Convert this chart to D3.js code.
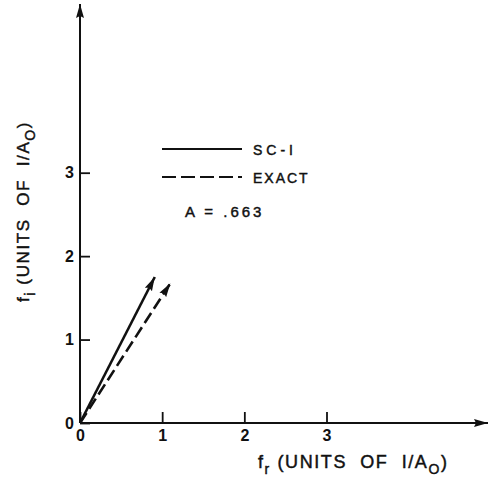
<!DOCTYPE html>
<html>
<head>
<meta charset="utf-8">
<script src="https://cdn.jsdelivr.net/npm/d3@7"></script>
<style>
  html, body { margin: 0; padding: 0; background: #fff; }
  svg { display: block; }
  text { font-family: "Liberation Sans", Arial, sans-serif; fill: #111; white-space: pre; }
  .lbl { stroke: #111; stroke-width: 0.45; }
</style>
</head>
<body>
<svg id="chart" width="489" height="491"></svg>
<script>
// Ticks along each axis
const xTicks = [0, 1, 2, 3];
const yTicks = [0, 1, 2, 3];

// Vector end points (f_r, f_i) for each method
const methods = ["SC-I", "EXACT"];
const frValues = [0.91, 1.10];
const fiValues = [1.75, 1.675];
const dashStyles = [null, "12,5"];

const paramLabel = "A = .663";

const svg = d3.select("#chart");
const ink = "#111";

const x = d3.scaleLinear().domain([0, 3]).range([80, 326.5]);
const y = d3.scaleLinear().domain([0, 3]).range([423, 172.7]);

// Arrowhead marker
const defs = svg.append("defs");
defs.append("marker")
  .attr("id", "head")
  .attr("markerUnits", "userSpaceOnUse")
  .attr("viewBox", "0 -5 14 10")
  .attr("refX", 14).attr("refY", 0)
  .attr("markerWidth", 14).attr("markerHeight", 10)
  .attr("orient", "auto")
  .append("path").attr("d", "M0,-4L14,0L0,4L2,0Z").attr("fill", ink);

// Axis lines with arrow tips
svg.append("line")
  .attr("x1", x(0)).attr("y1", y(0)).attr("x2", x(0)).attr("y2", 4)
  .attr("stroke", ink).attr("stroke-width", 2)
  .attr("marker-end", "url(#head)");
svg.append("line")
  .attr("x1", x(0)).attr("y1", y(0)).attr("x2", 488).attr("y2", y(0))
  .attr("stroke", ink).attr("stroke-width", 2)
  .attr("marker-end", "url(#head)");

// Ticks and tick labels
const xAxis = svg.append("g")
  .attr("transform", `translate(0,${y(0)})`)
  .call(d3.axisBottom(x).tickValues(xTicks).tickFormat(d3.format("d"))
    .tickSizeInner(-11).tickSizeOuter(0).tickPadding(7));
const yAxis = svg.append("g")
  .attr("transform", `translate(${x(0)},0)`)
  .call(d3.axisLeft(y).tickValues(yTicks).tickFormat(d3.format("d"))
    .tickSizeInner(-10).tickSizeOuter(0).tickPadding(6));
[xAxis, yAxis].forEach(g => {
  g.select(".domain").remove();
  g.selectAll(".tick line").attr("stroke", ink).attr("stroke-width", 1.8);
  g.selectAll(".tick text")
    .attr("font-family", "'Liberation Sans', Arial, sans-serif")
    .attr("font-size", 16).attr("font-weight", "bold").attr("fill", ink);
});

// Vectors
methods.forEach((m, i) => {
  svg.append("line")
    .attr("x1", x(0)).attr("y1", y(0))
    .attr("x2", x(frValues[i])).attr("y2", y(fiValues[i]))
    .attr("stroke", ink).attr("stroke-width", 2.6)
    .attr("stroke-dasharray", dashStyles[i])
    .attr("marker-end", "url(#head)");
});

// Legend
const legendX0 = 162, legendX1 = 242, legendY = [149, 177];
const legendSpacing = [4, 2];
methods.forEach((m, i) => {
  svg.append("line")
    .attr("x1", legendX0).attr("x2", legendX1)
    .attr("y1", legendY[i]).attr("y2", legendY[i])
    .attr("stroke", ink).attr("stroke-width", 2)
    .attr("stroke-dasharray", dashStyles[i] ? "14,5" : null);
  svg.append("text").attr("class", "lbl")
    .attr("x", 253).attr("y", legendY[i] + 6)
    .attr("font-size", 14).attr("letter-spacing", legendSpacing[i])
    .text(m);
});
svg.append("text").attr("class", "lbl")
  .attr("x", 185).attr("y", 217)
  .attr("font-size", 15).attr("letter-spacing", 3)
  .text(paramLabel);

// Axis titles
function axisTitle(sel, sub) {
  sel.append("tspan").text("f");
  sel.append("tspan").attr("font-size", 14).attr("dy", 6).text(sub);
  sel.append("tspan").attr("dy", -6).text(" (UNITS  OF  I/A");
  sel.append("tspan").attr("font-size", 14).attr("dy", 6).text("O");
  sel.append("tspan").attr("dy", -6).text(")");
}
axisTitle(svg.append("text").attr("class", "lbl")
  .attr("x", 258).attr("y", 468)
  .attr("font-size", 18).attr("letter-spacing", 1.6), "r");

axisTitle(svg.append("text").attr("class", "lbl")
  .attr("transform", "translate(29,302) rotate(-90)")
  .attr("font-size", 17).attr("letter-spacing", 1.6), "i");
</script>
</body>
</html>
